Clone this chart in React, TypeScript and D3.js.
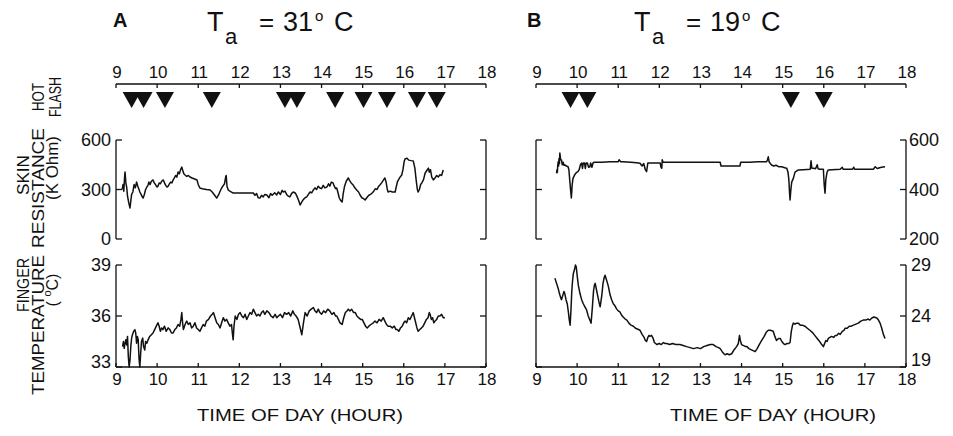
import React from "react";
import * as d3 from "d3";

// ---------- data ----------
const hourTicks = [9, 10, 11, 12, 13, 14, 15, 16, 17, 18];
const skinATicks = [0, 300, 600];
const skinBTicks = [200, 400, 600];
const fingerATicks = [33, 36, 39];
const fingerBTicks = [19, 24, 29];

const hotFlashA = [9.38, 9.67, 10.19, 11.33, 13.11, 13.4, 14.33, 15.02, 15.59, 16.32, 16.8];
const hotFlashB = [9.84, 10.25, 15.2, 16.0];

const skinA: [number, number][] = [
  [9.15,300],[9.17,330],[9.19,290],[9.21,380],[9.22,406],[9.24,340],[9.26,315],[9.28,260],[9.31,220],[9.34,188],
  [9.36,230],[9.38,270],[9.41,285],[9.44,330],[9.47,310],[9.5,345],[9.53,320],[9.56,300],[9.58,285],[9.61,270],
  [9.64,255],[9.66,248],[9.69,270],[9.72,300],[9.75,315],[9.78,327],[9.8,345],[9.83,330],[9.86,350],[9.9,358],
  [9.93,340],[9.96,330],[10.0,315],[10.02,320],[10.05,340],[10.08,335],[10.11,350],[10.15,358],[10.18,340],[10.21,325],
  [10.24,315],[10.27,320],[10.3,335],[10.33,345],[10.36,340],[10.39,358],[10.42,370],[10.45,385],[10.48,375],[10.51,406],
  [10.54,395],[10.57,420],[10.6,436],[10.63,410],[10.65,395],[10.68,388],[10.72,380],[10.76,385],[10.8,376],[10.85,370],
  [10.9,365],[10.97,358],[11.0,330],[11.04,309],[11.1,305],[11.2,300],[11.29,297],[11.34,285],[11.4,265],[11.45,248],
  [11.5,270],[11.55,300],[11.57,309],[11.6,320],[11.64,335],[11.67,380],[11.68,385],[11.7,320],[11.73,297],[11.77,290],
  [11.82,283],[11.85,279],[12.0,279],[12.2,279],[12.34,279],[12.38,265],[12.42,275],[12.46,250],[12.5,248],[12.54,265],
  [12.58,255],[12.62,270],[12.67,267],[12.72,250],[12.76,275],[12.8,265],[12.86,280],[12.91,267],[12.95,285],[13.0,270],
  [13.04,295],[13.07,285],[13.11,290],[13.15,270],[13.19,260],[13.23,255],[13.27,275],[13.31,285],[13.36,279],[13.4,260],
  [13.44,235],[13.48,206],[13.52,225],[13.56,240],[13.6,250],[13.64,255],[13.68,270],[13.72,285],[13.76,280],[13.8,297],
  [13.84,310],[13.88,300],[13.92,320],[13.96,309],[14.0,305],[14.04,325],[14.08,310],[14.13,315],[14.17,335],[14.2,320],
  [14.24,345],[14.28,340],[14.31,320],[14.34,305],[14.37,309],[14.4,280],[14.43,250],[14.46,235],[14.5,224],[14.53,280],
  [14.56,320],[14.6,350],[14.65,370],[14.68,355],[14.72,340],[14.77,327],[14.81,310],[14.86,295],[14.9,285],[14.94,265],
  [14.98,250],[15.02,245],[15.06,236],[15.1,250],[15.15,265],[15.19,270],[15.23,279],[15.27,290],[15.31,305],[15.35,300],
  [15.39,320],[15.42,327],[15.46,340],[15.5,355],[15.54,370],[15.57,345],[15.6,300],[15.62,285],[15.67,290],[15.72,285],
  [15.79,285],[15.82,320],[15.85,350],[15.87,358],[15.91,375],[15.95,388],[15.98,420],[16.01,470],[16.03,485],[16.08,490],
  [16.12,478],[16.18,475],[16.23,473],[16.27,430],[16.3,360],[16.33,300],[16.35,285],[16.38,300],[16.41,330],[16.44,340],
  [16.48,360],[16.52,400],[16.56,415],[16.6,430],[16.62,405],[16.65,420],[16.68,375],[16.72,358],[16.76,370],[16.8,385],
  [16.84,376],[16.88,390],[16.92,385],[16.96,418]
];

const fingerA: [number, number][] = [
  [9.16,34.2],[9.18,34.5],[9.2,34.1],[9.22,34.4],[9.24,34.6],[9.26,34.3],[9.28,34.8],[9.3,33.6],[9.32,33.0],[9.34,33.4],
  [9.36,34.2],[9.38,34.7],[9.4,34.9],[9.43,35.1],[9.46,35.2],[9.48,35.0],[9.5,34.4],[9.52,34.8],[9.54,34.6],[9.56,33.5],
  [9.58,33.0],[9.6,33.8],[9.62,34.5],[9.65,34.7],[9.67,34.2],[9.7,34.0],[9.72,34.5],[9.75,34.4],[9.78,34.6],[9.82,34.8],
  [9.86,34.9],[9.9,35.0],[9.94,35.2],[9.98,35.4],[10.02,35.6],[10.05,35.4],[10.08,35.1],[10.11,35.3],[10.14,35.2],[10.18,35.4],
  [10.22,35.1],[10.27,35.3],[10.31,35.2],[10.35,35.0],[10.39,35.0],[10.43,35.2],[10.47,35.3],[10.51,35.5],[10.55,35.4],[10.58,35.8],
  [10.6,36.2],[10.62,35.6],[10.64,35.2],[10.68,35.5],[10.72,35.7],[10.76,35.5],[10.8,35.6],[10.84,35.3],[10.88,35.4],[10.92,35.6],
  [10.96,35.3],[11.0,35.2],[11.04,35.1],[11.08,35.3],[11.12,35.5],[11.16,35.4],[11.2,35.7],[11.25,35.8],[11.3,36.0],[11.34,36.1],
  [11.37,36.2],[11.41,35.9],[11.45,35.6],[11.49,35.5],[11.53,35.3],[11.57,35.6],[11.61,35.9],[11.65,35.7],[11.69,35.8],[11.73,35.6],
  [11.77,35.4],[11.81,35.5],[11.83,35.0],[11.85,34.6],[11.87,35.4],[11.9,36.0],[11.94,35.8],[11.98,36.1],[12.02,36.2],[12.06,36.0],
  [12.1,35.9],[12.14,36.1],[12.18,35.8],[12.22,36.0],[12.26,36.2],[12.3,36.1],[12.34,36.4],[12.38,36.2],[12.42,36.0],[12.46,36.1],
  [12.5,36.0],[12.54,36.2],[12.58,36.3],[12.62,36.1],[12.67,36.3],[12.72,36.2],[12.77,36.0],[12.82,35.9],[12.87,36.1],[12.91,35.9],
  [12.95,36.0],[13.0,36.1],[13.05,35.9],[13.1,36.2],[13.15,36.1],[13.2,36.2],[13.25,36.0],[13.3,36.3],[13.34,36.1],[13.38,36.0],
  [13.43,35.8],[13.47,35.4],[13.52,34.9],[13.56,35.6],[13.6,36.2],[13.65,36.0],[13.7,36.3],[13.75,36.4],[13.8,36.5],[13.84,36.3],
  [13.88,36.2],[13.92,36.4],[13.96,36.2],[14.0,36.1],[14.05,36.3],[14.1,36.2],[14.15,36.4],[14.2,36.3],[14.25,36.1],[14.3,36.2],
  [14.34,36.0],[14.37,36.0],[14.41,35.8],[14.45,35.6],[14.5,35.5],[14.54,35.9],[14.58,36.2],[14.62,36.3],[14.65,36.4],[14.69,36.3],
  [14.73,36.4],[14.78,36.2],[14.82,36.2],[14.86,36.0],[14.9,35.9],[14.95,35.8],[14.99,35.8],[15.03,35.6],[15.07,35.4],[15.11,35.3],
  [15.15,35.4],[15.2,35.5],[15.26,35.6],[15.3,35.7],[15.35,35.6],[15.4,35.8],[15.45,35.7],[15.5,35.9],[15.54,35.7],[15.58,35.5],
  [15.62,35.4],[15.67,35.4],[15.72,35.3],[15.77,35.4],[15.81,35.2],[15.84,35.2],[15.88,35.1],[15.92,35.3],[15.96,35.4],[16.0,35.6],
  [16.03,35.7],[16.07,35.6],[16.11,35.9],[16.15,35.8],[16.19,36.0],[16.23,36.2],[16.26,35.9],[16.29,35.6],[16.32,35.3],[16.35,35.1],
  [16.39,35.2],[16.43,35.3],[16.47,35.4],[16.51,35.6],[16.55,35.8],[16.59,35.9],[16.62,36.2],[16.64,36.1],[16.67,35.8],[16.7,35.9],
  [16.73,35.6],[16.76,35.7],[16.8,35.8],[16.84,36.0],[16.88,36.0],[16.92,36.1],[16.96,35.9],[17.0,35.9]
];

const skinB: [number, number][] = [
  [9.5,465],[9.51,480],[9.52,470],[9.53,500],[9.54,512],[9.55,495],[9.56,525],[9.57,505],[9.58,547],[9.6,520],
  [9.62,519],[9.64,500],[9.66,510],[9.68,498],[9.7,499],[9.74,495],[9.78,492],[9.8,480],[9.82,440],[9.84,400],
  [9.86,366],[9.88,420],[9.9,445],[9.92,452],[9.95,462],[9.98,468],[10.02,472],[10.05,480],[10.08,500],[10.11,507],
  [10.13,485],[10.15,507],[10.18,507],[10.2,485],[10.22,507],[10.25,507],[10.28,490],[10.31,492],[10.33,507],[10.36,490],
  [10.39,508],[10.42,510],[10.5,510],[10.6,510],[10.8,512],[11.0,512],[11.02,520],[11.06,512],[11.12,512],[11.3,510],
  [11.45,508],[11.53,506],[11.58,495],[11.62,505],[11.66,480],[11.69,472],[11.72,507],[11.8,507],[11.95,507],[12.02,507],
  [12.04,490],[12.06,486],[12.07,520],[12.09,510],[12.3,510],[12.5,510],[13.0,510],[13.2,510],[13.48,510],[13.5,495],
  [13.96,495],[13.98,510],[14.2,510],[14.4,512],[14.61,512],[14.63,520],[14.65,532],[14.67,512],[14.7,505],[14.73,499],
  [14.78,495],[14.84,498],[14.9,492],[14.98,492],[15.05,488],[15.1,486],[15.13,470],[15.15,440],[15.17,380],[15.18,358],
  [15.2,400],[15.22,430],[15.26,445],[15.3,470],[15.38,479],[15.5,480],[15.67,482],[15.69,516],[15.71,486],[15.75,486],
  [15.8,484],[15.84,500],[15.86,484],[15.9,482],[15.99,482],[16.01,420],[16.03,385],[16.05,440],[16.08,470],[16.11,479],
  [16.2,480],[16.4,482],[16.45,490],[16.47,482],[16.7,482],[16.73,490],[16.75,482],[17.0,482],[17.21,482],[17.25,492],
  [17.3,485],[17.4,490],[17.49,492]
];

const fingerB: [number, number][] = [
  [9.46,27.7],[9.5,27.2],[9.54,26.7],[9.57,26.2],[9.6,25.8],[9.62,25.6],[9.65,26.0],[9.68,26.4],[9.7,26.2],[9.73,25.6],
  [9.76,25.2],[9.79,24.3],[9.81,23.6],[9.83,23.1],[9.85,24.5],[9.87,26.4],[9.89,27.5],[9.91,28.2],[9.94,28.6],[9.96,29.0],
  [9.98,28.8],[10.0,28.0],[10.03,27.0],[10.07,26.2],[10.11,25.6],[10.15,25.2],[10.19,24.9],[10.23,24.6],[10.27,24.0],[10.31,23.6],
  [10.34,23.3],[10.37,24.8],[10.4,26.5],[10.42,27.0],[10.44,27.2],[10.47,26.6],[10.5,26.0],[10.53,25.4],[10.56,24.9],[10.6,26.0],
  [10.63,27.2],[10.66,27.8],[10.68,28.0],[10.71,27.6],[10.74,27.2],[10.76,26.9],[10.8,26.1],[10.84,25.6],[10.88,25.2],[10.92,25.0],
  [10.96,24.7],[11.0,24.5],[11.04,24.4],[11.08,24.1],[11.12,23.9],[11.17,23.7],[11.21,23.6],[11.26,23.3],[11.31,23.1],[11.37,23.0],
  [11.42,22.8],[11.48,22.7],[11.53,22.6],[11.58,22.2],[11.63,21.9],[11.66,21.6],[11.69,21.5],[11.72,21.9],[11.75,22.1],[11.77,22.0],
  [11.81,22.1],[11.85,21.8],[11.88,21.4],[11.91,21.3],[11.94,21.2],[12.0,21.3],[12.05,21.2],[12.1,21.4],[12.14,21.3],[12.18,21.3],
  [12.25,21.2],[12.32,21.3],[12.4,21.2],[12.5,21.2],[12.58,21.1],[12.66,21.0],[12.75,20.9],[12.83,20.8],[12.92,20.9],[13.0,20.8],
  [13.08,21.0],[13.16,21.1],[13.24,21.2],[13.31,21.2],[13.38,21.0],[13.44,20.9],[13.48,20.8],[13.53,20.5],[13.57,20.3],[13.6,20.2],
  [13.65,20.3],[13.7,20.2],[13.76,20.3],[13.82,20.7],[13.88,21.0],[13.92,21.3],[13.95,22.1],[13.97,21.6],[14.0,21.2],[14.05,21.1],
  [14.1,21.0],[14.13,21.0],[14.18,20.8],[14.23,20.7],[14.28,20.6],[14.33,20.5],[14.38,20.8],[14.43,21.2],[14.49,21.6],[14.55,22.0],
  [14.6,22.4],[14.65,22.6],[14.7,22.6],[14.77,22.5],[14.81,22.0],[14.85,21.6],[14.9,21.8],[14.94,21.8],[14.98,21.5],[15.02,21.3],
  [15.06,21.2],[15.1,21.3],[15.15,21.3],[15.18,21.4],[15.21,22.5],[15.24,23.1],[15.26,23.3],[15.3,23.2],[15.34,23.3],[15.38,23.3],
  [15.43,23.1],[15.48,23.1],[15.54,23.0],[15.6,22.8],[15.66,22.6],[15.72,22.4],[15.78,22.1],[15.84,21.8],[15.9,21.5],[15.95,21.2],
  [15.99,21.0],[16.02,21.3],[16.05,21.6],[16.08,21.5],[16.11,21.8],[16.15,21.9],[16.19,22.0],[16.24,21.9],[16.28,22.1],[16.32,22.1],
  [16.36,22.3],[16.4,22.2],[16.45,22.5],[16.49,22.6],[16.52,22.8],[16.57,22.8],[16.62,23.0],[16.67,23.0],[16.72,23.1],[16.78,23.2],
  [16.84,23.3],[16.9,23.5],[16.96,23.6],[17.02,23.6],[17.08,23.7],[17.12,23.6],[17.17,23.8],[17.22,23.9],[17.29,23.8],[17.33,23.6],
  [17.37,23.3],[17.41,22.8],[17.45,22.2],[17.49,21.8]
];

// ---------- layout ----------
const W = 953, H = 436;
const FONT = "'Liberation Sans', Arial, Helvetica, sans-serif";
const HOT_Y = 84;
const SKIN_TOP = 140, SKIN_BOT = 239;
const FIN_TOP = 265, FIN_BOT = 367;
const TICK = 6;

const xA = d3.scaleLinear().domain([9, 18]).range([116, 486]);
const xB = d3.scaleLinear().domain([9, 18]).range([536, 906]);
const ySkinA = d3.scaleLinear().domain([0, 600]).range([SKIN_BOT, SKIN_TOP]);
const ySkinB = d3.scaleLinear().domain([200, 600]).range([SKIN_BOT, SKIN_TOP]);
const yFinA = d3.scaleLinear().domain([33, 39]).range([FIN_BOT, FIN_TOP]);
const yFinB = d3.scaleLinear().domain([19, 29]).range([FIN_BOT, FIN_TOP]);

const stroke = "#111";

function Trace({ data, x, y }: { data: [number, number][]; x: any; y: any }) {
  const line = d3.line<[number, number]>().x(d => x(d[0])).y(d => y(d[1])).curve(d3.curveLinear);
  return <path d={line(data) || ""} fill="none" stroke={stroke} strokeWidth={1.5} strokeLinejoin="round" />;
}

function VBracket({ x, y, ticks, side }: { x: number; y: any; ticks: number[]; side: "left" | "right" }) {
  const dir = side === "left" ? 1 : -1; // ticks point inward
  const [d0, d1] = y.domain();
  return (
    <g stroke={stroke} strokeWidth={1.3} fill="none">
      <line x1={x} x2={x} y1={y(d0)} y2={y(d1)} />
      {ticks.map(t => (
        <line key={t} x1={x} x2={x + dir * TICK} y1={y(t)} y2={y(t)} />
      ))}
    </g>
  );
}

function YLabels({ x, y, ticks, anchor, lowShift = 0 }: { x: number; y: any; ticks: number[]; anchor: "start" | "end"; lowShift?: number }) {
  const lo = Math.min(...ticks);
  return (
    <g fontFamily={FONT} fontSize={18} fill={stroke}>
      {ticks.map(t => (
        <text key={t} x={x} y={y(t) - (t === lo ? lowShift : 0)} dy="0.36em" textAnchor={anchor}>{t}</text>
      ))}
    </g>
  );
}

function HotAxis({ x, flashes }: { x: any; flashes: number[] }) {
  return (
    <g>
      <g stroke={stroke} strokeWidth={1.3}>
        <line x1={x(9)} x2={x(18)} y1={HOT_Y} y2={HOT_Y} />
        {hourTicks.map(h => (
          <line key={h} x1={x(h)} x2={x(h)} y1={HOT_Y} y2={HOT_Y + 4} />
        ))}
      </g>
      <g fontFamily={FONT} fontSize={17} fill={stroke} textAnchor="middle">
        {hourTicks.map(h => (
          <text key={h} x={x(h) + 1} y={HOT_Y - 6}>{h}</text>
        ))}
      </g>
      {flashes.map((f, i) => {
        const cx = x(f);
        const t = HOT_Y + 8;
        return <path key={i} d={`M${cx - 9},${t} L${cx + 9},${t} L${cx},${t + 16} Z`} fill={stroke} />;
      })}
    </g>
  );
}

function BottomAxis({ x }: { x: any }) {
  return (
    <g>
      <g stroke={stroke} strokeWidth={1.3}>
        <line x1={x(9)} x2={x(18)} y1={FIN_BOT} y2={FIN_BOT} />
        {hourTicks.map(h => (
          <line key={h} x1={x(h)} x2={x(h)} y1={FIN_BOT} y2={FIN_BOT - 4} />
        ))}
      </g>
      <g fontFamily={FONT} fontSize={17} fill={stroke} textAnchor="middle">
        {hourTicks.map(h => (
          <text key={h} x={x(h) + 1} y={FIN_BOT + 18}>{h}</text>
        ))}
      </g>
    </g>
  );
}

function RotLabel({ cx, cy, text, len, size = 16 }: { cx: number; cy: number; text: string; len?: number; size?: number }) {
  return (
    <text
      transform={`translate(${cx},${cy}) rotate(-90)`}
      textAnchor="middle"
      dominantBaseline="central"
      fontFamily={FONT}
      fontSize={size}
      fill={stroke}
      textLength={len}
      lengthAdjust={len ? "spacingAndGlyphs" : undefined}
    >
      {text}
    </text>
  );
}

function Title({ letter, lx, tx, value }: { letter: string; lx: number; tx: number; value: string }) {
  return (
    <g fontFamily={FONT} fill={stroke}>
      <text x={lx} y={27} fontSize={20} fontWeight="bold">{letter}</text>
      <text x={tx} y={31} fontSize={27}>T</text>
      <text x={tx + 18} y={44} fontSize={22}>a</text>
      <text x={tx + 52} y={31} fontSize={26}>=</text>
      <text x={tx + 76} y={31} fontSize={27}>{value}</text>
      <text x={tx + 108} y={21} fontSize={15}>o</text>
      <text x={tx + 127} y={31} fontSize={27}>C</text>
    </g>
  );
}

export default function App() {
  return (
    <svg width={W} height={H} style={{ position: "absolute", left: 0, top: 0, background: "#fff" }}>
      <rect width={W} height={H} fill="#fff" />

      <Title letter="A" lx={113} tx={207} value="31" />
      <Title letter="B" lx={527} tx={634} value="19" />

      {/* left axis titles */}
      <RotLabel cx={38} cy={97} text="HOT" len={28} />
      <RotLabel cx={55} cy={97} text="FLASH" len={40} />

      <RotLabel cx={23} cy={175} text="SKIN" len={40} />
      <RotLabel cx={38} cy={188} text="RESISTANCE" len={120} />
      <RotLabel cx={52} cy={168} text="(K Ohm)" len={64} />

      <RotLabel cx={23} cy={285} text="FINGER" len={54} />
      <RotLabel cx={38} cy={325} text="TEMPERATURE" len={140} />
      <text
        transform={`translate(52,290) rotate(-90)`}
        textAnchor="middle"
        dominantBaseline="central"
        fontFamily={FONT}
        fontSize={16}
        fill={stroke}
      >
        (&#160;<tspan fontSize={11} dy={-5}>o</tspan><tspan dy={5}>C)</tspan>
      </text>

      {/* Hot flash axes */}
      <HotAxis x={xA} flashes={hotFlashA} />
      <HotAxis x={xB} flashes={hotFlashB} />

      {/* Skin resistance panels */}
      <VBracket x={xA(9)} y={ySkinA} ticks={skinATicks} side="left" />
      <VBracket x={xA(18)} y={ySkinA} ticks={skinATicks} side="right" />
      <YLabels x={111} y={ySkinA} ticks={skinATicks} anchor="end" />
      <Trace data={skinA} x={xA} y={ySkinA} />

      <VBracket x={xB(9)} y={ySkinB} ticks={skinBTicks} side="left" />
      <VBracket x={xB(18)} y={ySkinB} ticks={skinBTicks} side="right" />
      <YLabels x={909} y={ySkinB} ticks={skinBTicks} anchor="start" />
      <Trace data={skinB} x={xB} y={ySkinB} />

      {/* Finger temperature panels */}
      <VBracket x={xA(9)} y={yFinA} ticks={fingerATicks} side="left" />
      <VBracket x={xA(18)} y={yFinA} ticks={fingerATicks} side="right" />
      <YLabels x={111} y={yFinA} ticks={fingerATicks} anchor="end" lowShift={5} />
      <BottomAxis x={xA} />
      <Trace data={fingerA} x={xA} y={yFinA} />

      <VBracket x={xB(9)} y={yFinB} ticks={fingerBTicks} side="left" />
      <VBracket x={xB(18)} y={yFinB} ticks={fingerBTicks} side="right" />
      <YLabels x={911} y={yFinB} ticks={fingerBTicks} anchor="start" lowShift={7} />
      <BottomAxis x={xB} />
      <Trace data={fingerB} x={xB} y={yFinB} />

      {/* x axis titles */}
      <text x={300} y={421} textAnchor="middle" fontFamily={FONT} fontSize={17} fill={stroke} textLength={206} lengthAdjust="spacingAndGlyphs">TIME OF DAY (HOUR)</text>
      <text x={773} y={421} textAnchor="middle" fontFamily={FONT} fontSize={17} fill={stroke} textLength={206} lengthAdjust="spacingAndGlyphs">TIME OF DAY (HOUR)</text>
    </svg>
  );
}
